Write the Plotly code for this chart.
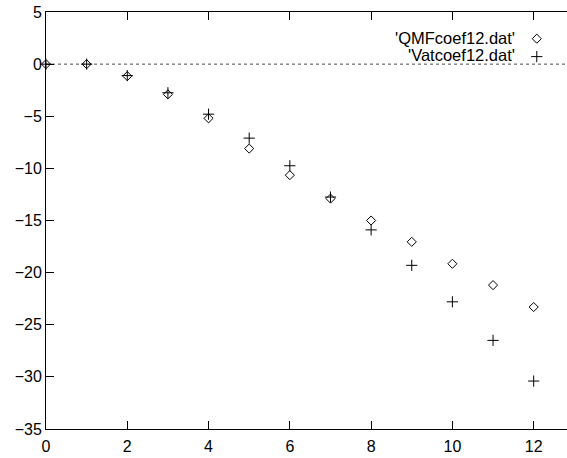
import plotly.graph_objects as go

x_vals = [0, 1, 2, 3, 4, 5, 6, 7, 8, 9, 10, 11, 12]
qmf_vals = [0, 0, -1.15, -2.9, -5.2, -8.1, -10.65, -12.9, -15.0, -17.05, -19.15, -21.2, -23.3]
vat_vals = [0, 0, -1.1, -2.75, -4.8, -7.1, -9.75, -12.75, -15.9, -19.3, -22.8, -26.5, -30.4]
series_names = ["'QMFcoef12.dat'", "'Vatcoef12.dat'"]
x_ticks = [0, 2, 4, 6, 8, 10, 12]
y_ticks = [5, 0, -5, -10, -15, -20, -25, -30, -35]

FONT = "Liberation Sans, Arial, sans-serif"

fig = go.Figure()
fig.add_trace(go.Scatter(
    x=x_vals, y=qmf_vals, mode="markers", name=series_names[0], cliponaxis=False,
    marker=dict(symbol="diamond-open", size=7, color="black", line=dict(width=1, color="black")),
    showlegend=False))
fig.add_trace(go.Scatter(
    x=x_vals, y=vat_vals, mode="markers", name=series_names[1], cliponaxis=False,
    marker=dict(symbol="cross-thin-open", size=8, color="black", line=dict(width=1, color="black")),
    showlegend=False))

# legend keys (gnuplot style: text then symbol) on an overlay paper-like axis
fig.add_trace(go.Scatter(
    x=[0.942], y=[0.936], xaxis="x2", yaxis="y2", mode="markers", showlegend=False,
    marker=dict(symbol="diamond-open", size=7, color="black", line=dict(width=1, color="black"))))
fig.add_trace(go.Scatter(
    x=[0.942], y=[0.893], xaxis="x2", yaxis="y2", mode="markers", showlegend=False,
    marker=dict(symbol="cross-thin-open", size=8, color="black", line=dict(width=1, color="black"))))
for i, name in enumerate(series_names):
    fig.add_annotation(text=name, xref="paper", yref="paper", x=0.903, y=0.937 - 0.040 * i,
                       xanchor="right", yanchor="middle", showarrow=False, borderpad=0,
                       font=dict(family=FONT, size=16.5, color="black"))

fig.add_shape(type="line", xref="paper", yref="y", x0=0, x1=1, y0=0, y1=0,
              line=dict(color="black", width=1, dash="dot"), opacity=0.7)

fig.update_layout(
    width=567, height=458,
    margin=dict(l=46, r=0, t=12, b=29),
    plot_bgcolor="white", paper_bgcolor="white",
    font=dict(family=FONT, size=16, color="black"),
    xaxis=dict(range=[0, 12.82], tickvals=x_ticks, ticks="inside", ticklen=8, tickcolor="black",
               showline=True, linecolor="black", linewidth=1, mirror="ticks", automargin=False,
               showgrid=False, zeroline=False, tickfont=dict(size=16), ticklabelstandoff=3),
    yaxis=dict(range=[-35, 5], tickvals=y_ticks, ticks="inside", ticklen=8, tickcolor="black",
               showline=True, linecolor="black", linewidth=1, mirror=False, automargin=False,
               showgrid=False, zeroline=False, tickfont=dict(size=16)),
    xaxis2=dict(range=[0, 1], overlaying="x", visible=False),
    yaxis2=dict(range=[0, 1], overlaying="y", visible=False),
)

fig.write_html("out.html", config={"displayModeBar": False},
               post_script="document.body.style.margin='0';document.body.style.overflow='hidden';")
